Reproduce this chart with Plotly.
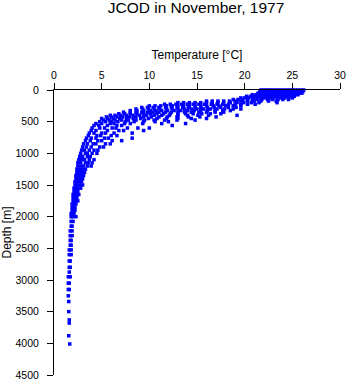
import plotly.graph_objects as go

# ---- data (CTD casts, JCOD November 1977) ----
# mixed layer: depth rows [m] and temperatures [°C] observed at each row
surface_depth_m = [0, 25, 50, 75, 100, 125, 150]
surface_temp_c = [
    [21.7, 22.0, 22.3, 22.6, 22.9, 23.2, 23.5, 23.8, 24.1, 24.4, 24.7, 25.0, 25.3, 25.6, 25.9, 26.2],
    [21.6, 21.9, 22.2, 22.5, 22.8, 23.1, 23.4, 23.7, 24.0, 24.3, 24.6, 24.9, 25.2, 25.5, 25.8, 26.1],
    [21.4, 21.8, 22.1, 22.4, 22.7, 23.0, 23.3, 23.6, 23.9, 24.2, 24.5, 24.8, 25.1, 25.4, 25.7, 26.0],
    [20.8, 21.2, 21.6, 22.0, 22.3, 22.6, 22.9, 23.2, 23.5, 23.8, 24.1, 24.4, 24.7, 25.0, 25.3, 25.6],
    [20.2, 20.6, 21.0, 21.4, 21.8, 22.2, 22.5, 22.8, 23.1, 23.4, 23.7, 24.0, 24.3, 24.6, 24.9, 25.2],
    [19.6, 20.0, 20.4, 20.9, 21.3, 21.7, 22.1, 22.6, 23.0, 23.4, 23.8, 24.2, 24.6, 25.0],
    [18.8, 19.3, 19.8, 20.3, 20.8, 21.3, 21.8, 22.4, 22.9, 23.5, 24.0, 24.6],
]

# thermocline
thermo_depth_m = [175, 200, 225, 250, 275, 300, 325, 350, 375, 400, 425, 450, 475, 500,
                  530, 560, 600, 640, 680, 720, 760, 800, 850, 900, 950, 1000, 1050, 1100, 1150]
thermo_temp_c = [
    [16.0, 16.6, 17.2, 17.8, 18.4, 19.0, 19.6, 20.3, 21.0, 21.7, 22.5, 23.3],
    [13.0, 13.6, 14.2, 14.8, 15.4, 16.0, 16.6, 17.2, 17.8, 18.5, 19.2, 19.9, 20.7, 21.5, 23.4],
    [11.6, 12.2, 12.8, 13.4, 14.0, 14.6, 15.2, 15.8, 16.5, 17.1, 17.7, 18.3, 19.0, 19.6, 20.3, 21.1],
    [10.0, 10.6, 11.2, 11.8, 12.4, 13.0, 13.6, 14.2, 14.8, 15.4, 16.0, 16.7, 17.3, 18.0, 18.8, 19.6],
    [9.2, 9.8, 10.4, 11.0, 11.7, 12.3, 12.9, 13.5, 14.1, 14.8, 15.4, 16.1, 16.8, 17.5, 18.3, 19.1],
    [8.6, 9.3, 9.9, 10.5, 11.1, 11.8, 12.4, 13.0, 13.7, 14.4, 15.0, 15.7, 16.4, 17.1, 17.9, 18.8, 19.6],
    [8.0, 8.7, 9.4, 10.1, 10.7, 11.3, 11.9, 12.6, 13.3, 14.0, 14.7, 15.4, 16.1, 16.9, 17.7, 18.5],
    [7.3, 8.0, 8.6, 9.2, 9.8, 10.4, 11.0, 11.7, 12.3, 13.0, 13.7, 14.4, 15.2, 16.0, 16.9, 17.8],
    [6.8, 7.4, 8.0, 8.7, 9.4, 10.1, 10.8, 11.5, 12.2, 13.0, 13.8, 14.6, 15.5, 16.4, 17.5],
    [5.9, 6.4, 7.0, 7.6, 8.3, 9.0, 9.7, 10.5, 11.3, 12.1, 13.0, 14.0, 15.1, 16.2, 19.2],
    [5.5, 6.0, 6.6, 7.2, 7.9, 8.6, 9.4, 10.2, 11.0, 11.9, 12.9, 14.1, 15.3, 17.0],
    [5.0, 5.6, 6.2, 6.9, 7.6, 8.3, 9.1, 9.9, 10.8, 11.8, 13.0, 14.4, 16.0],
    [5.2, 5.8, 6.4, 7.1, 7.8, 8.6, 9.5, 10.5, 11.6, 12.9, 14.8],
    [4.8, 5.4, 6.0, 6.7, 7.5, 8.4, 9.4, 10.6, 12.0],
    [4.4, 5.0, 5.9, 6.3, 7.4, 8.0, 9.3, 11.3, 13.8],
    [4.2, 4.7, 5.6, 6.6, 7.1, 12.4],
    [4.0, 4.8, 5.3, 6.1, 6.5, 7.7, 8.8, 10.0],
    [3.9, 4.4, 5.6, 6.8, 7.3, 9.4],
    [3.7, 4.2, 5.0, 5.4, 6.3, 8.2],
    [3.6, 4.5, 4.9, 6.0, 6.6],
    [3.4, 3.9, 4.4, 5.3, 5.7, 8.2],
    [3.3, 3.8, 4.6, 5.0, 6.1, 7.1],
    [3.1, 3.5, 4.1, 4.4, 5.4, 5.9],
    [3.0, 3.4, 3.9, 4.8, 5.2],
    [2.9, 3.2, 3.7, 4.2, 4.6],
    [2.8, 3.3, 3.5, 4.0, 4.5],
    [2.7, 3.0, 3.5, 3.8],
    [2.6, 2.9, 3.2, 3.7, 4.2],
    [2.5, 2.8, 3.3, 3.6, 4.0],
]

# deep water
deep_depth_m = [1200, 1250, 1300, 1350, 1400, 1450, 1500, 1550, 1600, 1650, 1700, 1750,
                1800, 1850, 1900, 1950, 2000, 2075, 2150, 2225, 2300, 2375, 2450, 2525,
                2600, 2700, 2800, 2875, 2950, 3050, 3150, 3250, 3340, 3500, 3630, 3680,
                3880, 4010]
deep_temp_c = [
    [2.5, 2.8, 3.1, 3.5, 3.9], [2.4, 2.7, 3.0, 3.3], [2.4, 2.6, 2.9, 3.2],
    [2.3, 2.6, 2.8, 3.1], [2.3, 2.5, 2.7, 3.0], [2.2, 2.5, 2.7, 2.9],
    [2.2, 2.4, 2.7, 3.0], [2.1, 2.3, 2.5, 2.8], [2.1, 2.3, 2.5],
    [2.0, 2.2, 2.4, 2.6], [2.0, 2.2, 2.4], [2.0, 2.1, 2.3, 2.5],
    [1.9, 2.1, 2.3], [1.9, 2.1, 2.2], [1.9, 2.0, 2.2], [1.8, 2.0, 2.1],
    [1.8, 2.0, 2.3], [1.8, 2.0], [1.8, 1.9], [1.7, 1.9], [1.7, 1.9],
    [1.7, 1.8], [1.7, 1.8], [1.6, 1.8], [1.6, 1.8], [1.6, 1.7], [1.6, 1.7],
    [1.6], [1.5, 1.7], [1.5, 1.6], [1.5, 1.6], [1.5], [1.55], [1.55],
    [1.6], [1.6], [1.55], [1.65],
]

x_ticks = [0, 5, 10, 15, 20, 25, 30]
y_ticks = [0, 500, 1000, 1500, 2000, 2500, 3000, 3500, 4000, 4500]

temps, depths = [], []
for drows, trows in ((surface_depth_m, surface_temp_c),
                     (thermo_depth_m, thermo_temp_c),
                     (deep_depth_m, deep_temp_c)):
    for d, row in zip(drows, trows):
        for t in row:
            temps.append(t)
            depths.append(d)

FONT = "Liberation Sans, Arial, sans-serif"

fig = go.Figure(go.Scatter(
    x=temps, y=depths, mode="markers",
    marker=dict(symbol="square", size=3.5, color="#0000ff", line=dict(width=0)),
    cliponaxis=False, hoverinfo="x+y", showlegend=False,
))

fig.update_layout(
    width=348, height=384,
    margin=dict(l=54, r=8, t=90, b=9, autoexpand=False),
    paper_bgcolor="white", plot_bgcolor="white",
    font=dict(family=FONT, size=10.5, color="black"),
    title=dict(text="JCOD in November, 1977", x=196 / 348, xanchor="center",
               y=0.995, yanchor="top", yref="container",
               font=dict(family=FONT, size=15.5, color="black")),
)
fig.update_xaxes(
    side="top", range=[0, 30], tickvals=x_ticks, ticks="outside", ticklen=6,
    tickcolor="black", showline=True, linecolor="black", linewidth=1,
    showgrid=False, zeroline=False,
    title=dict(text="Temperature [°C]", font=dict(size=12), standoff=6),
)
fig.update_yaxes(
    range=[4500, 0], tickvals=y_ticks, ticks="outside", ticklen=6,
    tickcolor="black", showline=True, linecolor="black", linewidth=1,
    showgrid=False, zeroline=False, ticklabelstandoff=6,
    title=dict(text="Depth [m]", font=dict(size=12), standoff=4),
)

fig.write_html(
    "out.html",
    config={"displayModeBar": False},
    post_script="document.body.style.margin='0';document.body.style.overflow='hidden';",
)
